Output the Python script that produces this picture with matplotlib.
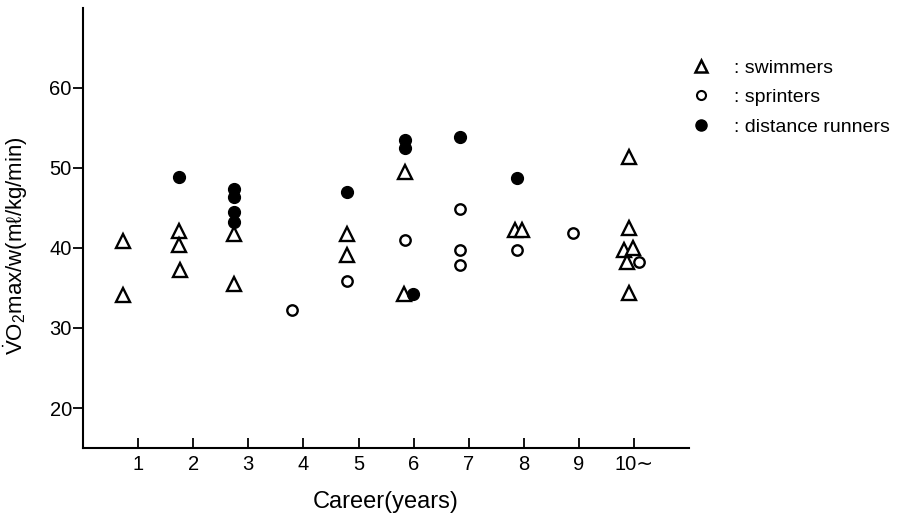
import matplotlib
matplotlib.use('Agg')
import matplotlib.pyplot as plt
from matplotlib.lines import Line2D

plt.rcParams['font.family'] = ['Liberation Sans', 'DejaVu Sans']
plt.rcParams['mathtext.fontset'] = 'custom'
plt.rcParams['mathtext.rm'] = 'Liberation Sans'

# career (years) positions and VO2max/w values
swim_x = [0.72, 0.72, 1.74, 1.74, 1.76, 2.74, 2.74, 4.79, 4.80, 5.82, 5.84,
          7.83, 7.96, 9.91, 9.91, 9.82, 9.98, 9.87, 9.91]
swim_y = [40.9, 34.1, 42.1, 40.4, 37.3, 41.8, 35.5, 41.8, 39.1, 34.3, 49.5,
          42.3, 42.3, 51.3, 42.5, 39.7, 40.0, 38.3, 34.4]

sprint_x = [3.79, 4.79, 5.84, 6.85, 6.85, 6.85, 7.87, 8.89, 10.08]
sprint_y = [32.3, 35.9, 41.0, 44.9, 39.8, 37.9, 39.8, 41.9, 38.3]

dist_x = [1.74, 2.74, 2.74, 2.74, 2.74, 4.79, 5.84, 5.84, 5.98, 6.85, 7.87]
dist_y = [48.8, 47.3, 46.3, 44.5, 43.3, 47.0, 53.5, 52.5, 34.2, 53.8, 48.7]

x_ticks = [1, 2, 3, 4, 5, 6, 7, 8, 9, 10]
x_labels = ['1', '2', '3', '4', '5', '6', '7', '8', '9', '10∼']
y_ticks = [20, 30, 40, 50, 60]

fig = plt.figure(figsize=(9.01, 5.18), dpi=100)
ax = fig.add_axes([0.092, 0.135, 0.673, 0.85])

ax.plot(swim_x, swim_y, linestyle='none', marker='^', markersize=10,
        markerfacecolor='white', markeredgecolor='black', markeredgewidth=1.7)
ax.plot(sprint_x, sprint_y, linestyle='none', marker='o', markersize=7.5,
        markerfacecolor='white', markeredgecolor='black', markeredgewidth=1.7)
ax.plot(dist_x, dist_y, linestyle='none', marker='o', markersize=8.5,
        markerfacecolor='black', markeredgecolor='black')

ax.set_xlim(0, 11)
ax.set_ylim(15, 70)
ax.set_xticks(x_ticks)
ax.set_xticklabels(x_labels)
ax.set_yticks(y_ticks)

for s in ['top', 'right']:
    ax.spines[s].set_visible(False)
for s in ['left', 'bottom']:
    ax.spines[s].set_linewidth(1.5)

ax.tick_params(axis='x', direction='in', length=7, width=1.3, labelsize=14.5, pad=5)
ax.tick_params(axis='y', direction='out', length=7, width=1.3, labelsize=14.5, pad=1)

ax.set_xlabel('Career(years)', fontsize=17, labelpad=12)
ax.set_ylabel(r'$\dot{\mathrm{V}}\mathrm{O}_2$max/w(mℓ/kg/min)', fontsize=16)
ax.yaxis.set_label_coords(-0.088, 0.46)

handles = [
    Line2D([], [], linestyle='none', marker='^', markersize=9,
           markerfacecolor='white', markeredgecolor='black', markeredgewidth=1.8),
    Line2D([], [], linestyle='none', marker='o', markersize=6.5,
           markerfacecolor='white', markeredgecolor='black', markeredgewidth=1.5),
    Line2D([], [], linestyle='none', marker='o', markersize=8,
           markerfacecolor='black', markeredgecolor='black'),
]
labels = [': swimmers', ': sprinters', ': distance runners']
fig.legend(handles, labels, loc='upper left', bbox_to_anchor=(0.756, 0.905),
           frameon=False, fontsize=14, handlelength=1.0, handletextpad=1.2,
           labelspacing=0.62, borderpad=0)

fig.savefig('out.png', dpi=100)
